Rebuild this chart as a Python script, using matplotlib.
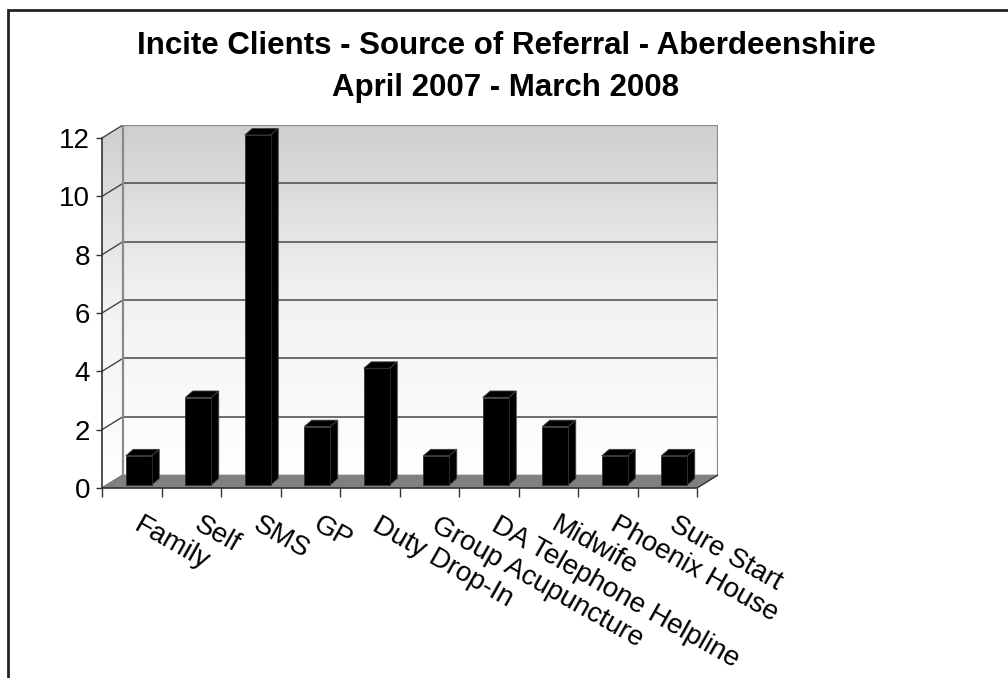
import matplotlib
matplotlib.use('Agg')
import matplotlib.pyplot as plt
import numpy as np
from matplotlib.patches import Polygon, Rectangle
from matplotlib.colors import LinearSegmentedColormap
from matplotlib.transforms import ScaledTranslation

# ---------------- data ----------------
categories = ['Family', 'Self', 'SMS', 'GP', 'Duty Drop-In', 'Group Acupuncture',
              'DA Telephone Helpline', 'Midwife', 'Phoenix House', 'Sure Start']
values = [1, 3, 12, 2, 4, 1, 3, 2, 1, 1]
y_ticks = [0, 2, 4, 6, 8, 10, 12]
title_line1 = 'Incite Clients - Source of Referral - Aberdeenshire'
title_line2 = 'April 2007 - March 2008'

plt.rcParams['font.family'] = ['Liberation Sans', 'DejaVu Sans']

W, H = 1008, 678
fig = plt.figure(figsize=(W / 100, H / 100), dpi=100)

# ---------------- geometry (pixels) ----------------
x_front_left, x_front_right = 102, 697
y_zero_px, y_top_px = 488, 138
depth_px = (21, 13)
n = len(categories)
ymax = y_ticks[-1]
xmin, xmax = -0.5, n - 0.5
ppx = (x_front_right - x_front_left) / n
ppy = (y_zero_px - y_top_px) / ymax
DX = depth_px[0] / ppx
DY = depth_px[1] / ppy

ax = fig.add_axes([x_front_left / W, (H - y_zero_px) / H,
                   (x_front_right + depth_px[0] - x_front_left) / W,
                   (y_zero_px - y_top_px + depth_px[1]) / H])
ax.patch.set_visible(False)

# gradient walls
cmap = LinearSegmentedColormap.from_list('wall', ['#FFFFFF', '#F2F2F2', '#CFCFCF'])
grad = np.linspace(0, 1, 256).reshape(-1, 1)
ax.imshow(grad, cmap=cmap, origin='lower', aspect='auto',
          extent=(xmin + DX, xmax + DX, DY, ymax + DY), zorder=0)
side = Polygon([(xmin, 0), (xmin + DX, DY), (xmin + DX, ymax + DY), (xmin, ymax)],
               closed=True, fc='none', ec='none')
ax.add_patch(side)
im = ax.imshow(grad, cmap=cmap, origin='lower', aspect='auto',
               extent=(xmin, xmin + DX, 0, ymax + DY), zorder=0)
im.set_clip_path(side)

# gridlines on back wall and side wall
for v in y_ticks:
    if 0 < v < ymax:
        ax.plot([xmin + DX, xmax + DX], [v + DY, v + DY], color='#555555', lw=1.2, zorder=1)
    ax.plot([xmin, xmin + DX], [v, v + DY], color='#444444', lw=1.0, zorder=1)

# back wall outline
ax.plot([xmin + DX, xmin + DX, xmax + DX, xmax + DX],
        [DY, ymax + DY, ymax + DY, DY], color='#8A8A8A', lw=1.6, zorder=1)

# floor
floor = Polygon([(xmin, 0), (xmax, 0), (xmax + DX, DY), (xmin + DX, DY)],
                closed=True, fc='#808080', ec='#808080', lw=0.5, zorder=2)
ax.add_patch(floor)
ax.plot([xmax, xmax + DX], [0, DY], color='#333333', lw=1.0, zorder=2)

# bars
shift = 7 / ppx
bw = 26 / ppx
base = 3 / ppy
bdx, bdy = 7.5 / ppx, 6.5 / ppy
xs = np.arange(n) + shift
ax.bar(xs, values, width=bw, bottom=base, color='black', edgecolor='#303030',
       lw=0.6, zorder=5)
for x, v in zip(xs, values):
    x0, x1 = x - bw / 2, x + bw / 2
    top = v + base
    ax.add_patch(Polygon([(x0, top), (x1, top), (x1 + bdx, top + bdy), (x0 + bdx, top + bdy)],
                         closed=True, fc='black', ec='#404040', lw=0.6, zorder=4))
    ax.add_patch(Polygon([(x1, base), (x1 + bdx, base + bdy), (x1 + bdx, top + bdy), (x1, top)],
                         closed=True, fc='black', ec='#404040', lw=0.6, zorder=4))

ax.set_xlim(xmin, xmax + DX)
ax.set_ylim(0, ymax + DY)

# spines / ticks
for s in ['top', 'right']:
    ax.spines[s].set_visible(False)
ax.spines['left'].set_bounds(0, ymax)
ax.spines['bottom'].set_bounds(xmin, xmax)
for s in ['left', 'bottom']:
    ax.spines[s].set_color('#333333')
    ax.spines[s].set_linewidth(1.2)
    ax.spines[s].set_zorder(6)

ax.set_yticks(y_ticks)
ax.set_yticklabels([str(t) for t in y_ticks])
ax.tick_params(axis='y', direction='out', length=4.5, width=1, color='#333333',
               labelsize=20, pad=4, labelcolor='black')
ax.set_xticks(np.arange(n + 1) - 0.5)
ax.set_xticklabels([''] * (n + 1))
ax.tick_params(axis='x', direction='out', length=6.5, width=1, color='#333333')

off = ScaledTranslation(11 / 100, -24 / 100, fig.dpi_scale_trans)
for i, lab in enumerate(categories):
    ax.text(i, 0, lab, transform=ax.get_xaxis_transform() + off, rotation=-29.5,
            rotation_mode='anchor', ha='left', va='top', fontsize=20, color='black')

# title
fig.text(506 / W, 1 - 54 / H, title_line1, ha='center', va='baseline',
         fontsize=22.5, fontweight='bold')
fig.text(506 / W, 1 - 96 / H, title_line2, ha='center', va='baseline',
         fontsize=22.5, fontweight='bold')

# outer frame
fig.patches.append(Rectangle((8 / W, -0.2), 2.0, 1.2 - 10 / H, transform=fig.transFigure,
                             fill=False, ec='#222222', lw=2, figure=fig))

fig.savefig('out.png', dpi=100)
